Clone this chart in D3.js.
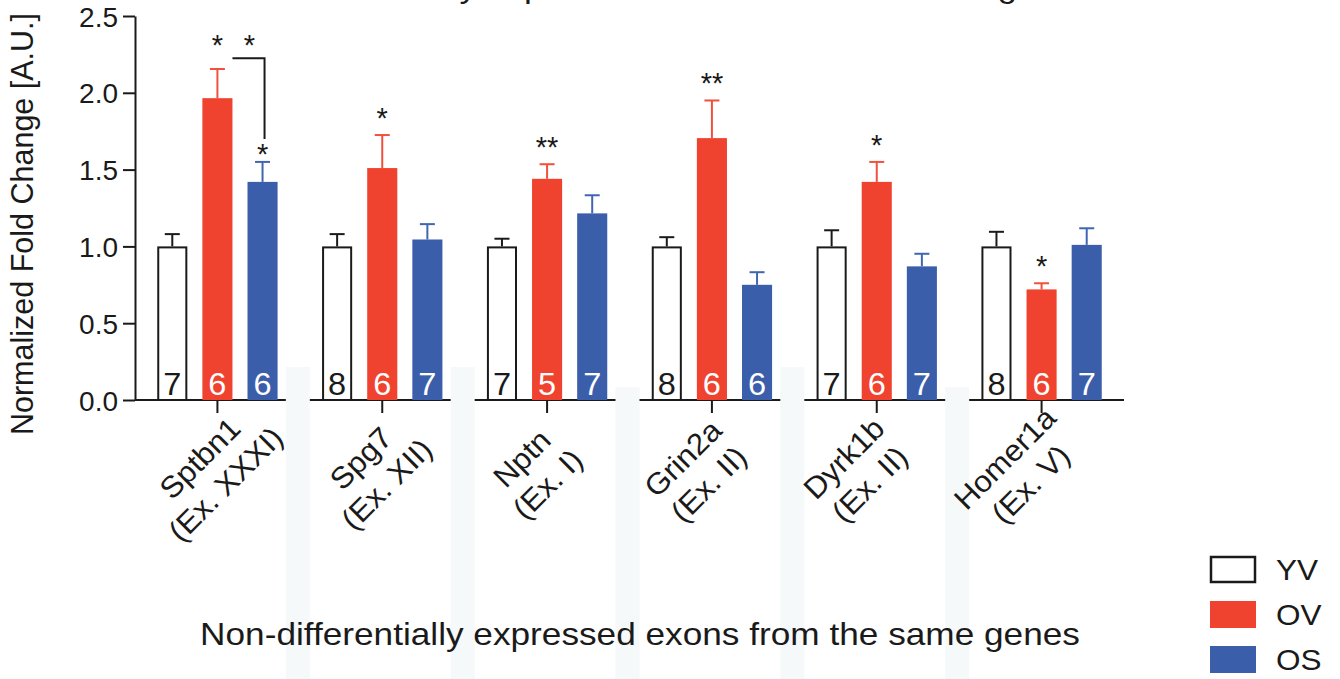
<!DOCTYPE html>
<html>
<head>
<meta charset="utf-8">
<script src="https://cdn.jsdelivr.net/npm/d3@7"></script>
<style>
  body { margin: 0; background: #fff; }
  svg { display: block; font-family: 'Liberation Sans', Arial, Helvetica, sans-serif; }
  .axis path, .axis line { stroke: #1a1a1a; stroke-width: 2px; }
  .axis text { fill: #1a1a1a; font-size: 28px; }
</style>
</head>
<body>
<div id="chart"></div>
<script>
// data
const genes = ['Sptbn1', 'Spg7', 'Nptn', 'Grin2a', 'Dyrk1b', 'Homer1a']
const exons = ['(Ex. XXXI)', '(Ex. XII)', '(Ex. I)', '(Ex. II)', '(Ex. II)', '(Ex. V)']
const groups = ['YV', 'OV', 'OS']

const yvMean = [1.0, 1.0, 1.0, 1.0, 1.0, 1.0]
const yvSem = [0.08, 0.08, 0.05, 0.06, 0.105, 0.095]
const ovMean = [1.965, 1.51, 1.44, 1.705, 1.42, 0.72]
const ovSem = [0.19, 0.215, 0.095, 0.245, 0.13, 0.04]
const osMean = [1.42, 1.045, 1.215, 0.75, 0.87, 1.01]
const osSem = [0.13, 0.1, 0.118, 0.082, 0.082, 0.108]

const nYV = [7, 8, 7, 8, 7, 8]
const nOV = [6, 6, 5, 6, 6, 6]
const nOS = [6, 7, 7, 6, 7, 7]

const ovStars = ['*', '*', '**', '**', '*', '*']
const osStars = ['*', '', '', '', '', '']
// OV vs OS comparison on Sptbn1
const bracket = { gene: 'Sptbn1', from: 'OV', to: 'OS', level: 2.225, end: 1.70, label: '*' }

const yTicks = [0, 0.5, 1.0, 1.5, 2.0, 2.5]

// colors
const colors = { YV: '#ffffff', OV: '#f0432f', OS: '#3b5eab' }
const errColors = { YV: '#1a1a1a', OV: '#f0503d', OS: '#4166b0' }
const ink = '#1a1a1a'

const width = 1340
const height = 679
// the source figure's type runs a bit wider than Arial
const widen = 1.1

const rows = genes.map((g, i) => ({
  gene: g,
  exon: exons[i],
  bars: [
    { key: 'YV', mean: yvMean[i], sem: yvSem[i], n: nYV[i], star: '' },
    { key: 'OV', mean: ovMean[i], sem: ovSem[i], n: nOV[i], star: ovStars[i] },
    { key: 'OS', mean: osMean[i], sem: osSem[i], n: nOS[i], star: osStars[i] }
  ]
}))

// scales
const scaleX = d3.scaleBand()
  .domain(genes)
  .range([135, 1124])
  .paddingInner(0.27)
  .paddingOuter(0.135)

const scaleBar = d3.scaleBand()
  .domain(groups)
  .range([0, scaleX.bandwidth()])
  .paddingInner(1 / 3)

// category labels sit on a slightly tighter grid than the bars
const scaleLabel = d3.scaleBand()
  .domain(genes)
  .range([132, 1098])

const scaleY = d3.scaleLinear()
  .domain([0, 2.5])
  .range([400, 16])

const bw = scaleBar.bandwidth()
const midX = (gene, key) => scaleX(gene) + scaleBar(key) + bw / 2

function stretch(sel, k) {
  sel.each(function () {
    const len = this.getComputedTextLength()
    d3.select(this).attr('textLength', len * k).attr('lengthAdjust', 'spacingAndGlyphs')
  })
}

const $svg = d3.select('#chart').append('svg')
  .attr('width', width)
  .attr('height', height)

// title, cut off by the top edge in the source
$svg.append('text')
  .attr('x', 284)
  .attr('y', -3)
  .style('font-size', '32px')
  .attr('fill', ink)
  .text('Differentially expressed exons from the same genes')
  .call(stretch, widen)

// baseline
$svg.append('line')
  .attr('x1', 135).attr('x2', 1124)
  .attr('y1', scaleY(0)).attr('y2', scaleY(0))
  .attr('stroke', ink).attr('stroke-width', 2)

// x ticks under the middle bar
$svg.selectAll('.x-tick')
  .data(genes)
  .enter()
  .append('line')
  .attr('class', 'x-tick')
  .attr('x1', d => midX(d, 'OV'))
  .attr('x2', d => midX(d, 'OV'))
  .attr('y1', scaleY(0))
  .attr('y2', scaleY(0) + 13)
  .attr('stroke', ink).attr('stroke-width', 2)

// faint scan stripes between the groups
const stripeTops = [367, 367, 387, 367, 387]
$svg.selectAll('.stripe')
  .data(genes.slice(1))
  .enter()
  .append('rect')
  .attr('class', 'stripe')
  .attr('x', d => scaleX(d) - scaleX.step() * 0.135 - 14)
  .attr('y', (d, i) => stripeTops[i])
  .attr('width', 24)
  .attr('height', height)
  .attr('fill', '#f6f9fa')

// y axis
const $axis = $svg.append('g')
  .attr('class', 'axis')
  .attr('transform', 'translate(135, 0)')
  .call(d3.axisLeft(scaleY)
    .tickValues(yTicks)
    .tickFormat(d3.format('.1f'))
    .tickSize(12)
    .tickSizeOuter(0)
    .tickPadding(5))
$axis.selectAll('text').attr('dy', '0.36em')

$svg.append('text')
  .attr('transform', 'translate(33, 224) rotate(-90)')
  .attr('text-anchor', 'middle')
  .style('font-size', '30.5px')
  .attr('fill', ink)
  .text('Normalized Fold Change [A.U.]')

// bars
const $g = $svg.selectAll('.g-gene')
  .data(rows)
  .enter()
  .append('g')
  .attr('class', 'g-gene')
  .attr('transform', d => `translate(${scaleX(d.gene)}, 0)`)

const $bar = $g.selectAll('.g-bar')
  .data(d => d.bars.map(b => Object.assign({ gene: d.gene }, b)))
  .enter()
  .append('g')
  .attr('class', 'g-bar')

// error bars (upper only)
$bar.append('line')
  .attr('x1', d => scaleBar(d.key) + bw / 2)
  .attr('x2', d => scaleBar(d.key) + bw / 2)
  .attr('y1', d => scaleY(d.mean))
  .attr('y2', d => scaleY(d.mean + d.sem))
  .attr('stroke', d => errColors[d.key])
  .attr('stroke-width', 2)

$bar.append('line')
  .attr('x1', d => scaleBar(d.key) + bw / 2 - 7.5)
  .attr('x2', d => scaleBar(d.key) + bw / 2 + 7.5)
  .attr('y1', d => scaleY(d.mean + d.sem))
  .attr('y2', d => scaleY(d.mean + d.sem))
  .attr('stroke', d => errColors[d.key])
  .attr('stroke-width', 2)

$bar.append('rect')
  .attr('x', d => scaleBar(d.key) + (d.key === 'YV' ? 1 : 0))
  .attr('y', d => scaleY(d.mean) + (d.key === 'YV' ? 1 : 0))
  .attr('width', d => bw - (d.key === 'YV' ? 2 : 0))
  .attr('height', d => scaleY(0) - scaleY(d.mean) - (d.key === 'YV' ? 1 : 0))
  .attr('fill', d => colors[d.key])
  .attr('stroke', d => d.key === 'YV' ? ink : 'none')
  .attr('stroke-width', 2)

// n per bar
$bar.append('text')
  .attr('x', d => scaleBar(d.key) + bw / 2)
  .attr('y', scaleY(0) - 5)
  .attr('text-anchor', 'middle')
  .style('font-size', '31px')
  .attr('fill', d => d.key === 'YV' ? ink : '#ffffff')
  .text(d => d.n)
  .call(stretch, 1.05)

// OV vs OS bracket
const bx1 = scaleX(bracket.gene) + scaleBar(bracket.from) + bw
const bx2 = midX(bracket.gene, bracket.to)
const bracketStarY = scaleY(bracket.level) - 3

// significance stars; in the bracketed group the OV star sits level with the bracket star
$bar.filter(d => d.star)
  .append('text')
  .attr('x', d => scaleBar(d.key) + bw / 2)
  .attr('y', d => {
    if (d.gene === bracket.gene && d.key === bracket.from) return bracketStarY
    if (d.gene === bracket.gene && d.key === bracket.to) return scaleY(d.mean + d.sem) + 2
    return scaleY(d.mean + d.sem) - 7
  })
  .attr('text-anchor', 'middle')
  .style('font-size', '29px')
  .attr('fill', ink)
  .text(d => d.star)

$svg.append('path')
  .attr('d', `M${bx1},${scaleY(bracket.level)}H${bx2 + 2}V${scaleY(bracket.end)}`)
  .attr('fill', 'none')
  .attr('stroke', ink)
  .attr('stroke-width', 2)
$svg.append('text')
  .attr('x', (bx1 + bx2) / 2 + 2)
  .attr('y', bracketStarY)
  .attr('text-anchor', 'middle')
  .style('font-size', '29px')
  .attr('fill', ink)
  .text(bracket.label)

// rotated two-line category labels, lines centred on each other
const labelMidY = 471
const $labels = $svg.selectAll('.x-label')
  .data(rows)
  .enter()
  .append('text')
  .attr('class', 'x-label')
  .style('font-size', '30px')
  .attr('fill', ink)
  .attr('text-anchor', 'middle')
  .attr('transform', d => {
    const cx = scaleLabel(d.gene) + scaleLabel.bandwidth() / 2
    return `translate(${cx}, ${labelMidY}) rotate(-45) scale(1.05, 1)`
  })

$labels.append('tspan')
  .attr('x', 0)
  .attr('y', -7.5)
  .text(d => d.gene)

$labels.append('tspan')
  .attr('x', 0)
  .attr('y', 29)
  .text(d => d.exon)

// x title
$svg.append('text')
  .attr('x', 640)
  .attr('y', 645)
  .attr('text-anchor', 'middle')
  .style('font-size', '32px')
  .attr('fill', ink)
  .text('Non-differentially expressed exons from the same genes')
  .call(stretch, widen)

// legend
const $legend = $svg.selectAll('.g-legend')
  .data(groups)
  .enter()
  .append('g')
  .attr('class', 'g-legend')
  .attr('transform', (d, i) => `translate(1210, ${556 + i * 45})`)

$legend.append('rect')
  .attr('x', d => d === 'YV' ? 1 : 0)
  .attr('y', d => d === 'YV' ? 1 : 0)
  .attr('width', d => d === 'YV' ? 44 : 46)
  .attr('height', d => d === 'YV' ? 25 : 27)
  .attr('fill', d => colors[d])
  .attr('stroke', d => d === 'YV' ? ink : 'none')
  .attr('stroke-width', 2.5)

$legend.append('text')
  .attr('x', 66)
  .attr('y', 24)
  .style('font-size', '30px')
  .attr('fill', ink)
  .text(d => d)
  .call(stretch, 1.05)
</script>
</body>
</html>
